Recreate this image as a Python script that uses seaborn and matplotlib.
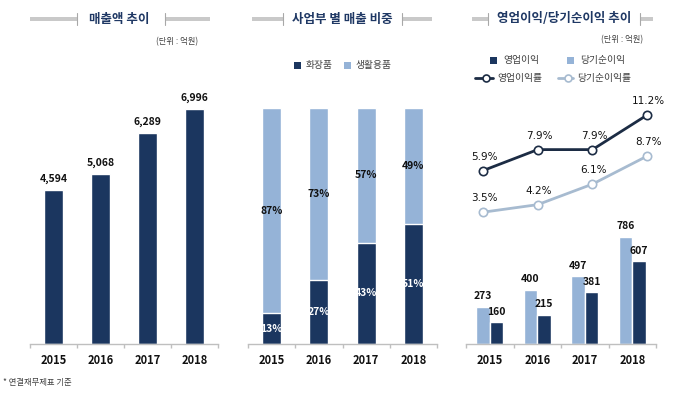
import numpy as np
import pandas as pd
import matplotlib
matplotlib.use("Agg")
import matplotlib.pyplot as plt
from matplotlib.patches import Rectangle
from matplotlib.lines import Line2D
import seaborn as sns

# 데이터
years = ["2015", "2016", "2017", "2018"]
sales = [4594, 5068, 6289, 6996]                 # 매출액 (억원)
cosmetics = [13, 27, 43, 51]                     # 화장품 비중 (%)
household = [87, 73, 57, 49]                     # 생활용품 비중 (%)
op_profit = [273, 400, 497, 786]                 # 영업이익 (억원)
net_profit = [160, 215, 381, 607]                # 당기순이익 (억원)
op_rate = [5.9, 7.9, 7.9, 11.2]                  # 영업이익률 (%)
net_rate = [3.5, 4.2, 6.1, 8.7]                  # 당기순이익률 (%)

NAVY = "#1b365f"
LIGHT = "#95b3d7"
LINE_DARK = "#1c2c44"
LINE_LIGHT = "#a7bbd0"
TITLE_C = "#1f3864"
TXT = "#404040"
AXIS_C = "#bfbfbf"

sns.set_theme(style="white")
plt.rcParams["font.family"] = ["Noto Sans CJK KR", "DejaVu Sans"]

W, H = 680, 395
fig = plt.figure(figsize=(6.8, 3.95), dpi=100)


def rect(l, r, t, b):
    return [l / W, 1 - b / H, (r - l) / W, (b - t) / H]


def fx(x):
    return x / W


def fy(y):
    return 1 - y / H


def style_axis(ax):
    for s in ["top", "right", "left"]:
        ax.spines[s].set_visible(False)
    ax.spines["bottom"].set_color(AXIS_C)
    ax.spines["bottom"].set_linewidth(1)
    ax.set_xlim(-0.5, 3.5)
    ax.set_yticks([])
    ax.set_xlabel("")
    ax.set_ylabel("")
    ax.set_xticks(range(4))
    ax.set_xticklabels(years, fontsize=8, fontweight="bold", color="#111111")
    ax.set_xticks(np.arange(-0.5, 4, 1), minor=True)
    ax.tick_params(axis="x", which="major", length=0, pad=7)
    ax.tick_params(axis="x", which="minor", length=3, color=AXIS_C, width=1,
                   direction="out", bottom=True)


def title_deco(text, cx, l1, r1, l2, r2, y=19):
    fig.text(fx(cx), fy(y), text, ha="center", va="center", fontsize=9,
             fontweight="bold", color=TITLE_C)
    for a, b in [(l1, r1), (l2, r2)]:
        fig.patches.append(Rectangle((fx(a), fy(y + 2)), (b - a) / W, 4 / H,
                                     transform=fig.transFigure,
                                     color="#c9c9c9", lw=0))
    for xv in (r1, l2):
        fig.lines.append(Line2D([fx(xv), fx(xv)], [fy(y + 6), fy(y - 6)],
                                transform=fig.transFigure, color="#a8a8a8",
                                lw=0.8))


# --- 매출액 추이 ---
df1 = pd.DataFrame({"year": years, "sales": sales})
ax1 = fig.add_axes(rect(30, 218, 75, 344))
sns.barplot(data=df1, x="year", y="sales", color=NAVY, saturation=1,
            width=0.4, ax=ax1)
ax1.set_ylim(0, 8000)
style_axis(ax1)
ax1.bar_label(ax1.containers[0], labels=[f"{v:,}" for v in sales],
              padding=4, fontsize=7.5, fontweight="bold", color="#111111")
title_deco("매출액 추이", 119, 30, 77, 165, 210)
fig.text(fx(177), fy(42), "(단위 : 억원)", ha="center", va="center",
         fontsize=6, color=TXT)

# --- 사업부 별 매출 비중 ---
df2 = pd.DataFrame({"year": years, "cos": cosmetics, "house": household})
df2["total"] = df2["cos"] + df2["house"]
ax2 = fig.add_axes(rect(248, 437, 75, 344))
sns.barplot(data=df2, x="year", y="total", color=LIGHT, saturation=1,
            width=0.4, ax=ax2)
sns.barplot(data=df2, x="year", y="cos", color=NAVY, saturation=1,
            width=0.4, ax=ax2)
ax2.set_ylim(0, 114)
style_axis(ax2)
for i, (c, h) in enumerate(zip(cosmetics, household)):
    ax2.text(i, c / 2, f"{c}%", ha="center", va="center", fontsize=7.5,
             fontweight="bold", color="white")
    ax2.text(i, c + h / 2, f"{h}%", ha="center", va="center", fontsize=7.5,
             fontweight="bold", color="#111111")
title_deco("사업부 별 매출 비중", 342, 252, 283, 402, 432)
# 범례
for sx, lab, col in [(297, "화장품", NAVY), (347, "생활용품", LIGHT)]:
    fig.patches.append(Rectangle((fx(sx - 3.5), fy(65 + 3.5)), 7 / W, 7 / H,
                                 transform=fig.transFigure, color=col, lw=0))
    fig.text(fx(sx + 9), fy(65), lab, ha="left", va="center", fontsize=7,
             color=TXT)

# --- 영업이익/당기순이익 추이 ---
df3 = pd.DataFrame({
    "year": years * 2,
    "kind": ["op"] * 4 + ["net"] * 4,
    "value": op_profit + net_profit,
})
ax3 = fig.add_axes(rect(466, 656, 75, 344))
sns.barplot(data=df3, x="year", y="value", hue="kind", hue_order=["op", "net"],
            palette=[LIGHT, NAVY], saturation=1, width=0.57, legend=False,
            ax=ax3)
ax3.set_ylim(0, 1976)
style_axis(ax3)
for cont, vals in zip(ax3.containers, [op_profit, net_profit]):
    ax3.bar_label(cont, labels=[str(v) for v in vals], padding=4,
                  fontsize=7.5, fontweight="bold", color="#111111")

xs = [0, 1, 2, 3]
for vals, col, ylim in [(op_rate, LINE_DARK, (-10.6, 15.0)),
                        (net_rate, LINE_LIGHT, (-8.7, 16.2))]:
    axl = fig.add_axes(rect(466, 656, 75, 344))
    axl.patch.set_alpha(0)
    sns.lineplot(x=xs, y=vals, color=col, lw=2, marker="o", markersize=6,
                 markerfacecolor="white", markeredgecolor=col,
                 markeredgewidth=1.2, ax=axl)
    for x, v in zip(xs, vals):
        axl.annotate(f"{v}%", (x, v), xytext=(1, 10), textcoords="offset points",
                     ha="center", va="center", fontsize=7.5, color="#111111",
                     family="DejaVu Sans")
    axl.set_xlim(-0.31, 3.16)
    axl.set_ylim(*ylim)
    axl.axis("off")

title_deco("영업이익/당기순이익 추이", 564, 472, 488, 640, 653)
fig.text(fx(622), fy(40), "(단위 : 억원)", ha="center", va="center",
         fontsize=6, color=TXT)
for sx, lab, col in [(493, "영업이익", NAVY), (570, "당기순이익", LIGHT)]:
    fig.patches.append(Rectangle((fx(sx - 3.5), fy(60 + 3.5)), 7 / W, 7 / H,
                                 transform=fig.transFigure, color=col, lw=0))
    fig.text(fx(sx + 10), fy(60), lab, ha="left", va="center", fontsize=7,
             color=TXT)
for x0, x1, lab, col in [(475, 493, "영업이익률", LINE_DARK),
                         (558, 573, "당기순이익률", LINE_LIGHT)]:
    fig.lines.append(Line2D([fx(x0), fx(x1)], [fy(78), fy(78)],
                            transform=fig.transFigure, color=col, lw=2))
    fig.lines.append(Line2D([fx((x0 + x1) / 2 + 2)], [fy(78)],
                            transform=fig.transFigure, color=col, marker="o",
                            markersize=5, markerfacecolor="white",
                            markeredgecolor=col, markeredgewidth=1.2))
    fig.text(fx(x1 + 4), fy(78), lab, ha="left", va="center", fontsize=7,
             color=TXT)

fig.text(fx(3), fy(383), "* 연결재무제표 기준", ha="left", va="center",
         fontsize=6, color=TXT)

fig.savefig("out.png", dpi=100)
